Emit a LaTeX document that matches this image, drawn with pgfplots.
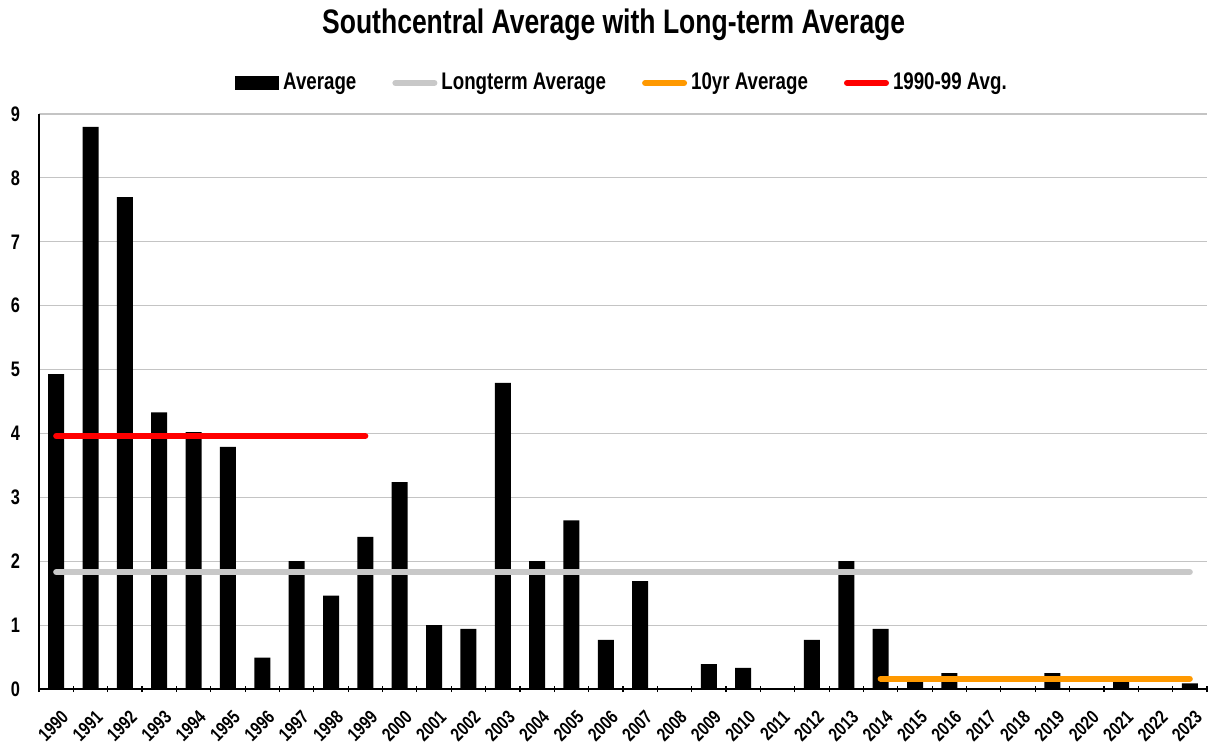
\documentclass[border=0pt]{standalone}
\usepackage{pgfplots}
\pgfplotsset{compat=1.18}
\usepackage{fontspec}
\setmainfont{Liberation Sans}[FakeStretch=0.78]
\definecolor{ltgrey}{RGB}{200,200,200}
\definecolor{gridgrey}{RGB}{196,196,196}
\definecolor{orangeline}{RGB}{255,153,0}
\definecolor{redline}{RGB}{255,0,0}
\begin{document}
\begin{tikzpicture}
\path[use as bounding box] (-19.5pt,-28pt) rectangle (586pt,344.5pt);
\begin{axis}[
  at={(0,0)}, anchor=south west,
  scale only axis,
  width=584pt, height=287.5pt,
  xmin=-0.5, xmax=33.5,
  ymin=0, ymax=9,
  ytick={0,1,...,9},
  xtick={0,1,...,33},
  xticklabels={1990,1991,1992,1993,1994,1995,1996,1997,1998,1999,2000,2001,2002,2003,2004,2005,2006,2007,2008,2009,2010,2011,2012,2013,2014,2015,2016,2017,2018,2019,2020,2021,2022,2023},
  minor xtick={-0.5,0.5,...,33.5},
  major tick length=0pt,
  minor tick length=3pt,
  tick align=outside,
  tick style={black, line width=0.6pt},
  axis x line=bottom, axis y line=left,
  axis line style={-, black, line width=0.7pt},
  ymajorgrids, grid style={gridgrey, line width=0.6pt},
  /pgf/number format/assume math mode=true,
  yticklabel style={font=\bfseries\fontsize{10.5}{12}\selectfont, xshift=-6pt},
  xticklabel style={font=\bfseries\fontsize{9.5}{11}\selectfont, xshift=2pt, yshift=-10pt, rotate=45, anchor=north east, inner sep=0pt},
  title={\bfseries\fontsize{17}{20}\selectfont Southcentral Average with Long-term Average},
  title style={at={(0.492,1.135)}, anchor=center},
  legend style={at={(0.5,1.054)}, anchor=center, draw=none, legend columns=4,
    font=\bfseries\fontsize{12}{14}\selectfont,
    /tikz/every even column/.append style={column sep=16pt}},
  legend cell align=left,
]
\addplot[ybar, bar width=8pt, fill=black, draw=none,
  legend image code/.code={\fill[black] (0pt,-3.5pt) rectangle (22pt,3.5pt);}]
  coordinates {(0,4.93) (1,8.80) (2,7.70) (3,4.33) (4,4.02) (5,3.79) (6,0.49) (7,2.00) (8,1.46) (9,2.38)
  (10,3.24) (11,1.00) (12,0.94) (13,4.79) (14,2.00) (15,2.64) (16,0.77) (17,1.69) (18,0) (19,0.39)
  (20,0.33) (21,0) (22,0.77) (23,2.00) (24,0.94) (25,0.12) (26,0.25) (27,0) (28,0) (29,0.25)
  (30,0) (31,0.12) (32,0) (33,0.09)};
\addlegendentry{Average}
\addplot[ltgrey, line width=3pt, line cap=round, mark=none,
  legend image code/.code={\draw[ltgrey, line width=3pt, line cap=round] (1.5pt,0) -- (21pt,0);}]
  coordinates {(0,1.83) (33,1.83)};
\addlegendentry{Longterm Average}
\addplot[orangeline, line width=3pt, line cap=round, mark=none,
  legend image code/.code={\draw[orangeline, line width=3pt, line cap=round] (1.5pt,0) -- (21pt,0);}]
  coordinates {(24,0.16) (33,0.16)};
\addlegendentry{10yr Average}
\addplot[redline, line width=3pt, line cap=round, mark=none,
  legend image code/.code={\draw[redline, line width=3pt, line cap=round] (1.5pt,0) -- (21pt,0);}]
  coordinates {(0,3.96) (9,3.96)};
\addlegendentry{1990-99 Avg.}
\end{axis}
\end{tikzpicture}
\end{document}
